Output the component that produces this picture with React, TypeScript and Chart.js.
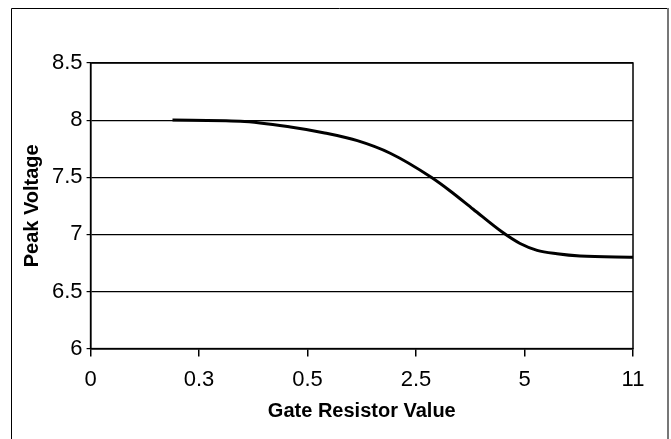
import React, { useEffect, useRef } from "react";
import { Chart, registerables } from "chart.js";

Chart.register(...registerables);

// Category labels shown on x axis (evenly spaced positions 0..5)
const tickLabels = ["0", "0.3", "0.5", "2.5", "5", "11"];
// Curve sample positions along the x axis (in tick-index units)
const xPositions = [0.755, 1.381, 1.842, 2.146, 2.459, 2.762, 3.14, 3.315, 3.527, 3.794, 3.959, 4.116, 4.3, 4.512, 5.0];
// Peak voltage values
const peakVoltage = [8.0, 7.99, 7.94, 7.89, 7.82, 7.71, 7.5, 7.38, 7.22, 7.02, 6.92, 6.86, 6.83, 6.81, 6.8];
const yTicks = [6, 6.5, 7, 7.5, 8, 8.5];

const FONT = "'Liberation Sans', Arial, Helvetica, sans-serif";

const framePlugin = {
  id: "frame",
  beforeDraw(chart: any) {
    const ctx = chart.ctx;
    ctx.save();
    ctx.fillStyle = "#fff";
    ctx.fillRect(0, 0, chart.width, chart.height);
    ctx.strokeStyle = "#000";
    ctx.lineWidth = 1;
    ctx.beginPath();
    ctx.moveTo(11.5, 460);
    ctx.lineTo(11.5, 8.5);
    ctx.lineTo(667.5, 8.5);
    ctx.stroke();
    ctx.strokeStyle = "#777";
    ctx.lineWidth = 2;
    ctx.beginPath();
    ctx.moveTo(668, 8);
    ctx.lineTo(668, 460);
    ctx.stroke();
    ctx.restore();
  },
  afterDatasetsDraw(chart: any) {
    const { ctx, chartArea } = chart;
    ctx.save();
    ctx.strokeStyle = "#000";
    ctx.lineWidth = 1.5;
    ctx.strokeRect(chartArea.left, chartArea.top, chartArea.right - chartArea.left, chartArea.bottom - chartArea.top);
    ctx.restore();
  },
};

export default function App() {
  const ref = useRef<HTMLCanvasElement | null>(null);
  useEffect(() => {
    if (!ref.current) return;
    const data = xPositions.map((x, i) => ({ x, y: peakVoltage[i] }));
    const chart = new Chart(ref.current, {
      type: "line",
      data: {
        datasets: [
          {
            data,
            borderColor: "#000",
            borderWidth: 3,
            pointRadius: 0,
            cubicInterpolationMode: "monotone",
            fill: false,
          },
        ],
      },
      options: {
        animation: false,
        responsive: false,
        maintainAspectRatio: false,
        layout: { padding: { left: 20, right: 38, top: 63, bottom: 16 } },
        plugins: { legend: { display: false }, tooltip: { enabled: false } },
        scales: {
          x: {
            type: "linear",
            min: 0,
            max: 5,
            afterBuildTicks: (axis: any) => {
              axis.ticks = tickLabels.map((_, i) => ({ value: i }));
            },
            ticks: {
              autoSkip: false,
              maxRotation: 0,
              color: "#000",
              padding: 10,
              font: { family: FONT, size: 22 },
              callback: (v: any) => tickLabels[Math.round(Number(v))],
            },
            grid: { drawOnChartArea: false, drawTicks: true, tickLength: 8, color: "#000", lineWidth: 1.5 },
            border: { color: "#000", width: 1.5 },
            title: {
              display: true,
              text: "Gate Resistor Value",
              color: "#000",
              padding: { top: -4, bottom: 0 },
              font: { family: FONT, size: 20, weight: "bold" },
            },
          },
          y: {
            type: "linear",
            min: 6,
            max: 8.5,
            afterBuildTicks: (axis: any) => {
              axis.ticks = yTicks.map((v) => ({ value: v }));
            },
            ticks: {
              color: "#000",
              padding: 4,
              font: { family: FONT, size: 22 },
              callback: (v: any) => String(v),
            },
            grid: { color: "#000", lineWidth: 1.2, tickLength: 4 },
            border: { color: "#000", width: 1.5 },
            title: {
              display: true,
              text: "Peak Voltage",
              color: "#000",
              padding: { top: 0, bottom: 4 },
              font: { family: FONT, size: 20, weight: "bold" },
            },
          },
        },
      },
      plugins: [framePlugin],
    } as any);
    return () => chart.destroy();
  }, []);
  return (
    <div style={{ position: "fixed", left: 0, top: 0, width: 671, height: 439, background: "#fff" }}>
      <canvas ref={ref} width={671} height={439} style={{ width: 671, height: 439, display: "block" }} />
    </div>
  );
}
